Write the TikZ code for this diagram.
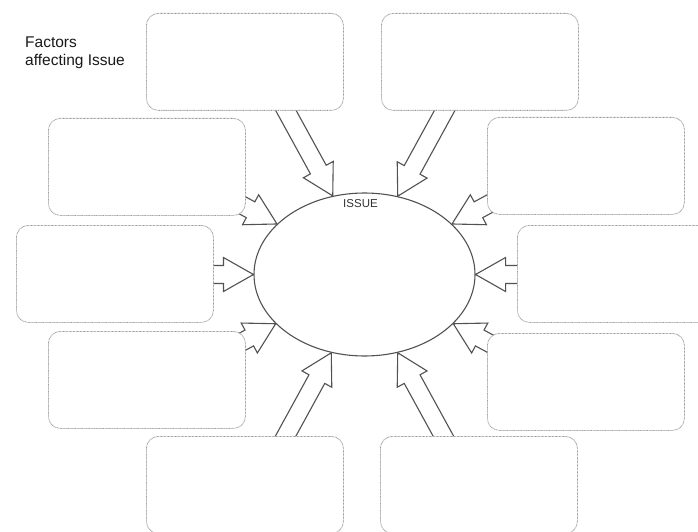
\documentclass[tikz,border=0pt]{standalone}
\usepackage{fontspec}
\setmainfont{Liberation Sans}
\usetikzlibrary{calc,shapes.geometric}
\pgfdeclarelayer{behind}
\pgfsetlayers{behind,main}

\tikzset{
  factorbox/.style={draw=black!38, dash pattern=on 0.8pt off 0.6pt, line width=0.8pt,
    fill=white, rounded corners=12pt, minimum width=197pt, minimum height=97pt,
    inner sep=0pt, anchor=north west},
  issueoval/.style={ellipse, draw=black!68, line width=1.1pt, fill=white,
    minimum width=221pt, minimum height=163pt, inner sep=0pt},
  fatarrow/.style={draw=black!68, line width=1.1pt, fill=white, line join=miter},
  headline/.style={font=\fontsize{15.5}{18}\selectfont, text=black!90, align=left,
    inner sep=0pt, anchor=north west},
  issuelabel/.style={font=\fontsize{11.5}{13}\selectfont, text=black!80, inner sep=0pt},
}

% block arrow from a tail coordinate #1 to a tip point #2
% (shaft half width 9, head half width 17, head length 30)
\newcommand\blockarrow[2]{%
  \coordinate (#1-h) at ($(#2)!30pt!(#1)$);
  \draw[fatarrow] ($(#1)!9pt!90:(#2)$) -- ($(#1-h)!9pt!90:(#2)$)
    -- ($(#1-h)!17pt!90:(#2)$) -- (#2) -- ($(#1-h)!17pt!-90:(#2)$)
    -- ($(#1-h)!9pt!-90:(#2)$) -- ($(#1)!9pt!-90:(#2)$) -- cycle;
}

\begin{document}
\begin{tikzpicture}[x=1pt, y=-1pt]
  \useasboundingbox (0,0) rectangle (698,532);
  \clip (0,0) rectangle (698,532);

  % title
  \node[headline] (title) at (25,36.5) {Factors\\affecting Issue};

  % central issue
  \node[issueoval] (issue) at (364.5,274.5) {};
  \node[issuelabel] (issuetxt) at (360.5,203.3) {ISSUE};

  % factor boxes
  \node[factorbox] (b1)  at (146,13)  {};
  \node[factorbox] (b2)  at (381,13)  {};
  \node[factorbox] (b3)  at (48,118)  {};
  \node[factorbox] (b4)  at (16,225)  {};
  \node[factorbox] (b5)  at (48,331)  {};
  \node[factorbox] (b6)  at (146,436) {};
  \node[factorbox] (b7)  at (380,436) {};
  \node[factorbox] (b8)  at (487,333) {};
  \node[factorbox] (b9)  at (517,225) {};
  \node[factorbox] (b10) at (487,117) {};

  % arrow tails, hidden inside the boxes
  \coordinate (t1)  at (270.5,82.4);
  \coordinate (t2)  at (459.9,82.7);
  \coordinate (t3)  at (163.1,162.6);
  \coordinate (t4)  at (124,274.5);
  \coordinate (t5)  at (161.8,385.3);
  \coordinate (t6)  at (269.1,466.3);
  \coordinate (t7)  at (459.9,466.3);
  \coordinate (t8)  at (567.2,385.3);
  \coordinate (t9)  at (605,274.5);
  \coordinate (t10) at (565.9,162.6);

  \begin{pgfonlayer}{behind}
    \fill[white] (0,0) rectangle (698,532);
    \blockarrow{t1}{issue.112}
    \blockarrow{t2}{issue.67}
    \blockarrow{t3}{issue.150}
    \blockarrow{t4}{issue.180}
    \blockarrow{t5}{issue.209}
    \blockarrow{t6}{issue.247}
    \blockarrow{t7}{issue.293}
    \blockarrow{t8}{issue.331}
    \blockarrow{t9}{issue.0}
    \blockarrow{t10}{issue.30}
  \end{pgfonlayer}
\end{tikzpicture}
\end{document}
